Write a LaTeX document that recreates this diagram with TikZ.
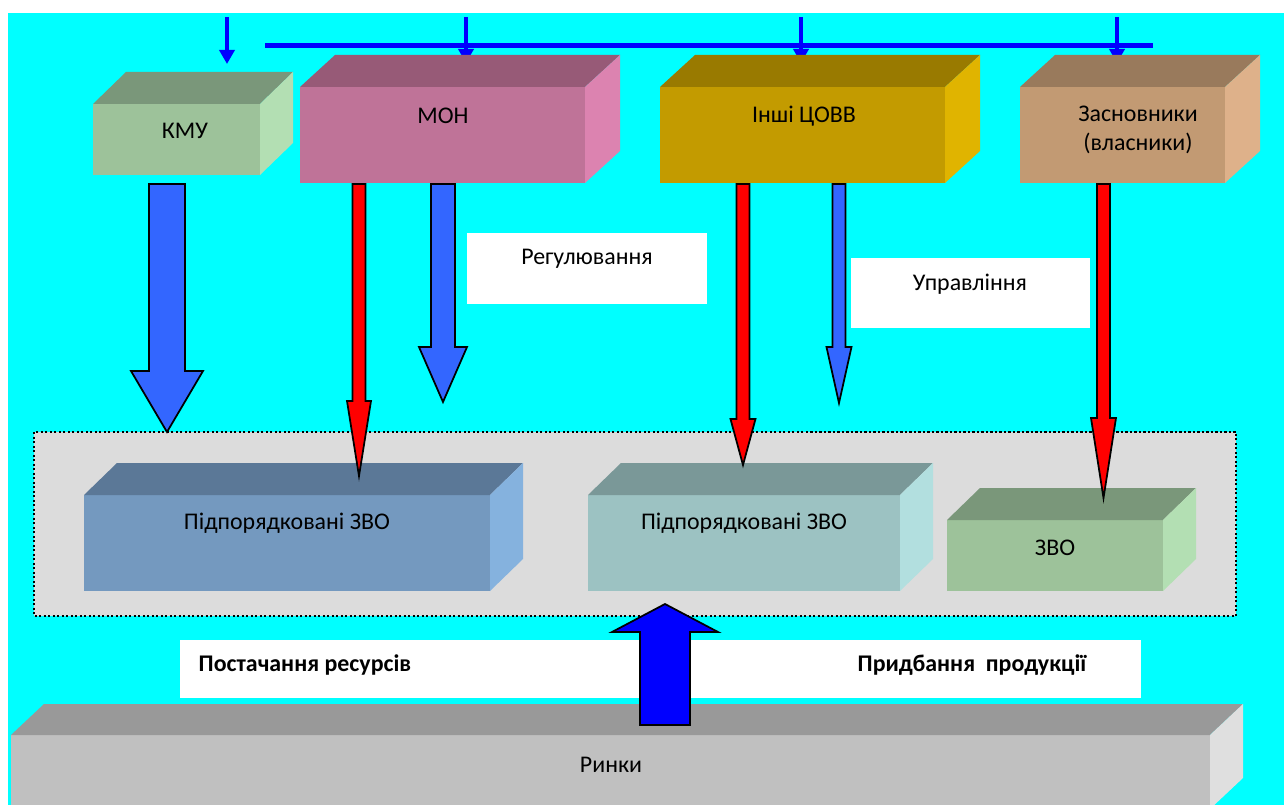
\documentclass[tikz,border=0pt]{standalone}
\usepackage{fontspec}
\setmainfont{Carlito}
\usetikzlibrary{arrows.meta}
\definecolor{bg}{HTML}{00FFFF}
\definecolor{zone}{HTML}{DCDCDC}
\definecolor{topblue}{HTML}{0000FF}
\definecolor{arrblue}{HTML}{3366FF}
\definecolor{arrred}{HTML}{FF0000}
\definecolor{kmuF}{HTML}{9DC29A}
\definecolor{kmuT}{HTML}{7A977A}
\definecolor{kmuS}{HTML}{B3DFB3}
\definecolor{monF}{HTML}{BF7398}
\definecolor{monT}{HTML}{975A77}
\definecolor{monS}{HTML}{DC83B0}
\definecolor{covF}{HTML}{C39B00}
\definecolor{covT}{HTML}{997A00}
\definecolor{covS}{HTML}{E0B400}
\definecolor{zasF}{HTML}{C29A73}
\definecolor{zasT}{HTML}{997A5C}
\definecolor{zasS}{HTML}{DEB18A}
\definecolor{pidF}{HTML}{7499BF}
\definecolor{pidT}{HTML}{5B7897}
\definecolor{pidS}{HTML}{85B2DE}
\definecolor{pibF}{HTML}{9CC2C2}
\definecolor{pibT}{HTML}{7A9898}
\definecolor{pibS}{HTML}{B2DFDF}
\definecolor{rynF}{HTML}{C0C0C0}
\definecolor{rynT}{HTML}{999999}
\definecolor{rynS}{HTML}{DFDFDF}
% front face corners, depth, colour prefix
\newcommand{\brick}[7]{%
  \fill[#7F] (#1,#2) rectangle (#3,#4);
  \fill[#7T] (#1,#2) -- ++(#5,-#6) -- (#3+#5,#2-#6) -- (#3,#2) -- cycle;
  \fill[#7S] (#3,#2) -- (#3+#5,#2-#6) -- (#3+#5,#4-#6) -- (#3,#4) -- cycle;}
% x, start, head base, tip, half shaft, half head, colour
\newcommand{\blockarrow}[7]{%
  \draw[blk, fill=#7] (#1-#5,#2) -- (#1-#5,#3) -- (#1-#6,#3) -- (#1,#4)
    -- (#1+#6,#3) -- (#1+#5,#3) -- (#1+#5,#2) -- cycle;}
\begin{document}
\begin{tikzpicture}[x=0.2mm,y=-0.2mm,
    every node/.style={font=\fontsize{13.6}{16.5}\selectfont},
    bold/.style={font=\fontsize{13.6}{16.5}\selectfont\bfseries},
    blk/.style={draw=black, line width=0.35mm},
    feed/.style={topblue, line width=0.85mm, -{Triangle[width=3mm,length=2.8mm]}}]
    \useasboundingbox (0,0) rectangle (1284,805);
    \clip (0,0) rectangle (1284,805);
    \fill[white] (0,0) rectangle (1284,805);
    \fill[bg] (8,13) rectangle (1284,805);
    % top line
    \draw[topblue, line width=1mm] (265,46) -- (1153,46);
    \draw[feed] (227,17) -- (227,64);
    \draw[feed] (466,17) -- (466,63);
    \draw[feed] (801,17) -- (801,63);
    \draw[feed] (1117,17) -- (1117,63);
    % upper boxes
    \brick{93}{104}{260}{175}{33}{32}{kmu}
    \brick{300}{87}{585}{183}{35}{32}{mon}
    \brick{660}{87}{945}{183}{35}{32}{cov}
    \brick{1020}{87}{1225}{183}{35}{32}{zas}
    \node (kmu) at (185,131) {КМУ};
    \node (mon) at (443,116) {МОН};
    \node (covv) at (804,116) {Інші ЦОВВ};
    \node[align=center] (zasn) at (1138,130) {Засновники\\(власники)};
    % zone
    \draw[fill=zone, line width=0.45mm, dash pattern=on 0.45mm off 0.45mm] (34,432) rectangle (1236,616);
    \brick{84}{495}{490}{591}{33}{32}{pid}
    \brick{588}{495}{900}{591}{33}{32}{pib}
    \brick{947}{520}{1163}{591}{33}{32}{kmu}
    \node (pidp1) at (287,523) {Підпорядковані ЗВО};
    \node (pidp2) at (744,523) {Підпорядковані ЗВО};
    \node (zvo) at (1055,548) {ЗВО};
    % labels
    \fill[white] (467,233) rectangle (707,304);
    \fill[white] (851,258) rectangle (1090,328);
    \fill[white] (180,640) rectangle (1141,698);
    \node (reg) at (587,259) {Регулювання};
    \node (upr) at (970,284) {Управління};
    \node[bold] (post) at (305,665) {Постачання ресурсів};
    \node[bold] (prid) at (972,665) {Придбання\ \ продукції};
    % markets
    \brick{11}{735}{1210}{809}{33}{31}{ryn}
    \node (rynky) at (611,765) {Ринки};
    % arrows
    \blockarrow{167}{184}{371}{432}{18}{36}{arrblue}
    \blockarrow{359}{184}{401}{476}{6.5}{12}{arrred}
    \blockarrow{443}{184}{347}{402}{12}{24}{arrblue}
    \blockarrow{743}{184}{419}{465}{6.5}{12.5}{arrred}
    \blockarrow{839}{184}{347}{403}{6.5}{12.5}{arrblue}
    \blockarrow{1103.5}{184}{418}{498}{6.5}{12.5}{arrred}
    \blockarrow{665}{725}{632}{604}{25}{53}{topblue}
  \end{tikzpicture}
\end{document}
